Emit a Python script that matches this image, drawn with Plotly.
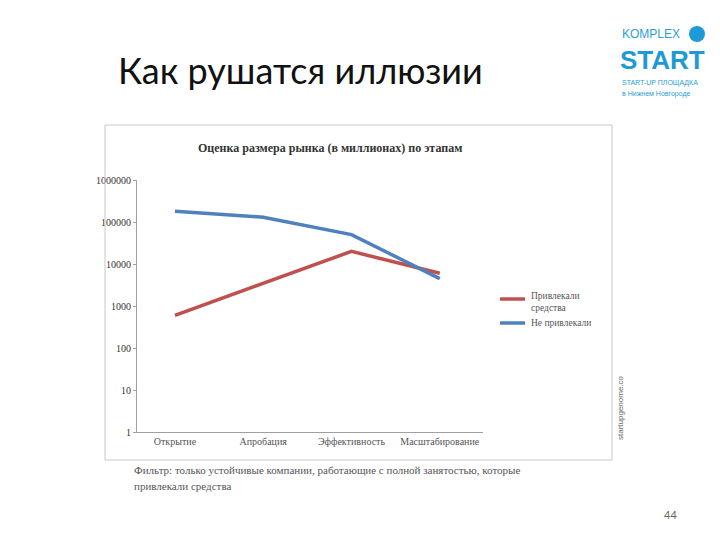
import plotly.graph_objects as go

categories = ["Открытие", "Апробация", "Эффективность", "Масштабирование"]
raised = [600, 3500, 20000, 6000]
not_raised = [180000, 130000, 50000, 4500]
tick_vals = [1, 10, 100, 1000, 10000, 100000, 1000000]
tick_text = ["1", "10", "100", "1000", "10000", "100000", "1000000"]

O = 8  # page body offset
W, H = 720 - O, 540 - O
L, R, T, B = 137 - O, 483 - O, 180 - O, 432 - O
def px(x): return (x - O - L) / (R - L)
def py(y): return (B - (y - O)) / (B - T)

xs = list(range(len(categories)))
fig = go.Figure()
fig.add_trace(go.Scatter(x=xs, y=raised, mode="lines", line=dict(color="#c0504d", width=3.5), showlegend=False))
fig.add_trace(go.Scatter(x=xs, y=not_raised, mode="lines", line=dict(color="#4f81bd", width=3.5), showlegend=False))

serif = "Liberation Serif"
fig.update_layout(
    width=W, height=H, paper_bgcolor="white", plot_bgcolor="white",
    margin=dict(l=L, r=W - R, t=T, b=H - B, autoexpand=False),
    xaxis=dict(range=[-0.43, 3.49], tickvals=xs, ticktext=categories, showgrid=False, zeroline=False,
               showline=True, linecolor="#a0a0a0", ticks="", tickfont=dict(family=serif, size=10, color="#555"),
               fixedrange=True),
    yaxis=dict(type="log", range=[0, 6], tickvals=tick_vals, ticktext=tick_text, showgrid=False,
               showline=True, linecolor="#a0a0a0", ticks="outside", ticklen=3, tickcolor="#a0a0a0",
               tickfont=dict(family=serif, size=10, color="#333"), zeroline=False),
)
shapes = [
    dict(type="rect", xref="paper", yref="paper", x0=px(105), x1=px(612), y0=py(460), y1=py(125),
         line=dict(color="#c8c8c8", width=1)),
    dict(type="line", xref="paper", yref="paper", x0=px(500), x1=px(525), y0=py(299), y1=py(299),
         line=dict(color="#c0504d", width=3.5)),
    dict(type="line", xref="paper", yref="paper", x0=px(500), x1=px(525), y0=py(323), y1=py(323),
         line=dict(color="#4f81bd", width=3.5)),
    dict(type="circle", xref="paper", yref="paper", x0=px(689), x1=px(705), y0=py(42), y1=py(26),
         fillcolor="#1e9ad6", line=dict(width=0)),
]
fig.update_layout(shapes=shapes)

def ann(x, y, text, size, color="#333", family=serif, xanchor="left", angle=0, **kw):
    fig.add_annotation(xref="paper", yref="paper", x=px(x), y=py(y), text=text, showarrow=False,
                       font=dict(size=size, color=color, family=family), xanchor=xanchor,
                       yanchor="middle", textangle=angle, **kw)

ann(116, 70, "Как рушатся иллюзии", 36, "#111", "Lato")
ann(330, 148, "<b>Оценка размера рынка (в миллионах) по этапам</b>", 12, "#333", xanchor="center")
ann(529, 302, "Привлекали<br>средства", 9.5, "#555", align="left")
ann(529, 323, "Не привлекали", 9.5, "#555")
ann(132, 470, "Фильтр: только устойчивые компании, работающие с полной занятостью, которые", 11, "#555")
ann(132, 486, "привлекали средства", 11, "#555")
ann(620, 408, "startupgenome.co", 8, "#666", "Liberation Sans", xanchor="center", angle=-90)
ann(670, 514, "44", 11, "#666", "Lato", xanchor="center")
ann(620, 34, "KOMPLEX", 12, "#2aa0d8", "Liberation Sans")
ann(618, 60, "<b>START</b>", 26, "#1e9ad6", "Liberation Sans")
ann(620, 83, "START-UP ПЛОЩАДКА", 7, "#2aa0d8", "Liberation Sans")
ann(620, 94, "в Нижнем Новгороде", 7, "#2aa0d8", "Liberation Sans")

fig.write_html("out.html")
